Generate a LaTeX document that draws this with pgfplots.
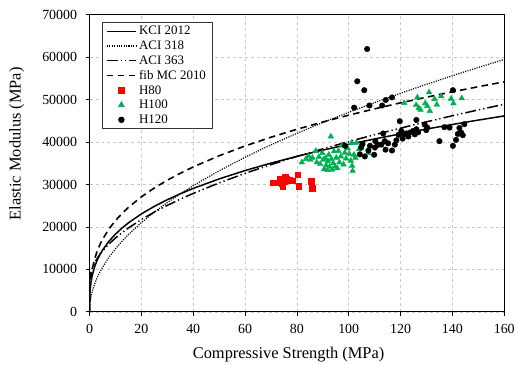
\documentclass[border=0pt]{standalone}
\usepackage{fontspec}
\setmainfont{Liberation Serif}
\usepackage{pgfplots}
\pgfplotsset{compat=1.18}
\usetikzlibrary{calc}

\definecolor{myred}{RGB}{255,0,0}
\definecolor{mygreen}{RGB}{0,176,80}
\definecolor{gridgray}{RGB}{200,200,200}

\pgfplotstableread{
x y
0 0
0.1 3945
0.25 5355
0.5 6746
1 8500
2 10709
3 12259
4 13493
5 14535
7.5 16638
10 18313
12.5 19727
15 20963
20 23073
25 24854
30 26411
35 27804
40 29070
50 31314
60 33276
70 35031
80 36625
90 38092
100 39454
110 40727
120 41926
130 43059
140 44136
150 45163
160 46145
}\kci

\pgfplotstableread{
x y
0 0
0.1 1486
0.25 2350
0.5 3323
1 4700
2 6647
3 8141
4 9400
5 10510
7.5 12871
10 14863
12.5 16617
15 18203
20 21019
25 23500
30 25743
35 27806
40 29725
50 33234
60 36406
70 39323
80 42038
90 44588
100 47000
110 49294
120 51486
130 53588
140 55611
150 57563
160 59451
}\acithree

\pgfplotstableread{
x y
0 6900
0.1 7950
0.25 8560
0.5 9248
1 10220
2 11595
3 12650
4 13540
5 14324
7.5 15992
10 17399
12.5 18638
15 19758
20 21748
25 23500
30 25084
35 26541
40 27897
50 30376
60 32617
70 34677
80 36595
90 38396
100 40100
110 41720
120 43269
130 44754
140 46183
150 47562
160 48895
}\acithreesix

\pgfplotstableread{
x y
0 0
0.1 4632
0.25 6287
0.5 7921
1 9979
2 12573
3 14392
4 15841
5 17065
7.5 19534
10 21500
12.5 23160
15 24611
20 27088
25 29180
30 31008
35 32643
40 34129
50 36764
60 39068
70 41128
80 43000
90 44722
100 46320
110 47815
120 49222
130 50553
140 51817
150 53023
160 54176
}\fib

\pgfplotstableread{
x y
70.7 30400
72.5 30400
73.5 31200
74.2 30300
74.5 29500
75.0 30700
75.5 31700
76.0 31200
77.2 31000
78.2 30900
80.3 32300
80.7 29600
85.5 30800
86.0 29100
}\hei

\pgfplotstableread{
x y
81.9 35200
83.5 36000
84.5 36700
85.2 35800
86.0 36300
87.3 37900
87.7 35200
88.5 36500
89.0 34800
89.8 37400
90.2 35800
90.5 33600
91.0 36200
91.3 34500
91.8 33400
92.0 35500
92.3 37000
92.6 34200
93.1 41300
93.3 36000
93.6 33500
94.0 35000
94.3 37800
94.8 34200
95.2 36300
95.6 33800
96.0 37900
96.4 35200
97.0 36600
97.3 39100
98.0 34700
98.5 37500
99.0 36100
99.6 38500
100.2 37200
100.8 35600
101.1 39800
101.3 34400
101.5 33200
102.0 37000
102.6 36300
103.0 39800
104.0 38300
107.5 37400
121.4 49200
126.0 48700
126.5 50500
127.0 48000
127.7 47600
129.5 49100
130.3 48500
131.0 51700
131.3 47300
133.1 50100
134.0 48800
135.7 50800
139.5 50200
140.4 49100
143.6 50300
}\hone

\pgfplotstableread{
x y
98.6 39100
102.1 48100
103.3 54300
104.3 37100
104.8 38700
105.3 39500
106.0 52200
106.2 36600
107.1 61900
107.6 38000
108.0 48600
108.2 39100
109.8 37000
110.1 38700
110.3 40200
111.2 39300
112.6 39400
112.9 48600
113.3 42000
113.9 40200
114.2 38200
114.3 49900
115.2 39700
116.7 50500
116.7 38000
117.8 39400
118.4 40400
119.2 41700
119.7 44900
120.3 42600
120.8 40800
121.3 41800
122.2 42000
123.0 41300
123.5 42200
124.8 42600
125.5 41800
126.1 45200
126.1 43000
126.8 42300
129.3 44100
129.9 42800
130.3 43400
135.0 40200
136.9 43500
138.9 43400
140.2 52200
140.2 39100
141.4 40500
142.1 41900
142.7 43300
143.4 42200
144.0 41600
144.6 44200
}\htwo

\begin{document}
\begin{tikzpicture}
\begin{axis}[
  scale only axis, width=416.7pt, height=298.7pt,
  xmin=0, xmax=160, ymin=0, ymax=70000,
  xtick={0,20,...,160}, ytick={0,10000,...,70000},
  scaled y ticks=false,
  /pgf/number format/1000 sep={},
  /pgf/number format/assume math mode=true,
  tick label style={font=\fontsize{14}{16}\selectfont},
  xticklabel style={yshift=-5pt},
  yticklabel style={xshift=-5pt},
  label style={font=\fontsize{16.5}{19}\selectfont},
  xlabel={Compressive Strength (MPa)},
  ylabel={Elastic Modulus (MPa)},
  xlabel style={at={(axis description cs:0.48,-0.142)}, anchor=center},
  ylabel style={at={(axis description cs:-0.176,0.565)}, anchor=center},
  grid=major,
  major grid style={gridgray, dash pattern=on 3pt off 3pt, line width=0.6pt},
  axis line style={line width=0.9pt},
  tick style={black, line width=0.8pt},
  tick align=outside, major tick length=4pt,
  xtick pos=left, ytick pos=left,
  legend cell align=left,
  legend style={at={(axis description cs:0.0295,0.9756)}, anchor=north west,
    font=\fontsize{13}{14}\selectfont, draw=black!80, line width=0.8pt,
    inner xsep=4pt, inner ysep=2.5pt, row sep=1.6pt,
    nodes={inner xsep=2.5pt, inner ysep=1.5pt}},
  lineleg/.style={legend image code/.code={\draw[##1] (0pt,0pt) -- (29pt,0pt);}},
  markleg/.style={legend image code/.code={\draw[##1] plot coordinates {(14.5pt,0pt)};}},
]
\addplot[black, line width=1.5pt, lineleg] table[x=x,y=y] {\kci};
\addlegendentry{KCI 2012}
\addplot[black, line width=1.2pt, dash pattern=on 1.1pt off 1.3pt, lineleg] table[x=x,y=y] {\acithree};
\addlegendentry{ACI 318}
\addplot[black, line width=1.5pt, dash pattern=on 11pt off 3pt on 1.3pt off 3pt on 1.3pt off 3pt, lineleg] table[x=x,y=y] {\acithreesix};
\addlegendentry{ACI 363}
\addplot[black, line width=1.6pt, dash pattern=on 6.5pt off 4.5pt, lineleg] table[x=x,y=y] {\fib};
\addlegendentry{fib MC 2010}
\addplot[only marks, mark=square*, mark size=2.8pt, draw=myred, fill=myred, markleg] table[x=x,y=y] {\hei};
\addlegendentry{H80}
\addplot[only marks, mark=triangle*, mark size=3.3pt, draw=mygreen, fill=mygreen, markleg] table[x=x,y=y] {\hone};
\addlegendentry{H100}
\addplot[only marks, mark=*, mark size=2.8pt, draw=black, fill=black, markleg] table[x=x,y=y] {\htwo};
\addlegendentry{H120}
\end{axis}
\path ($(current axis.south west)+(-90pt,-51.7pt)$) rectangle ($(current axis.north east)+(11.3pt,14.7pt)$);
\end{tikzpicture}
\end{document}
